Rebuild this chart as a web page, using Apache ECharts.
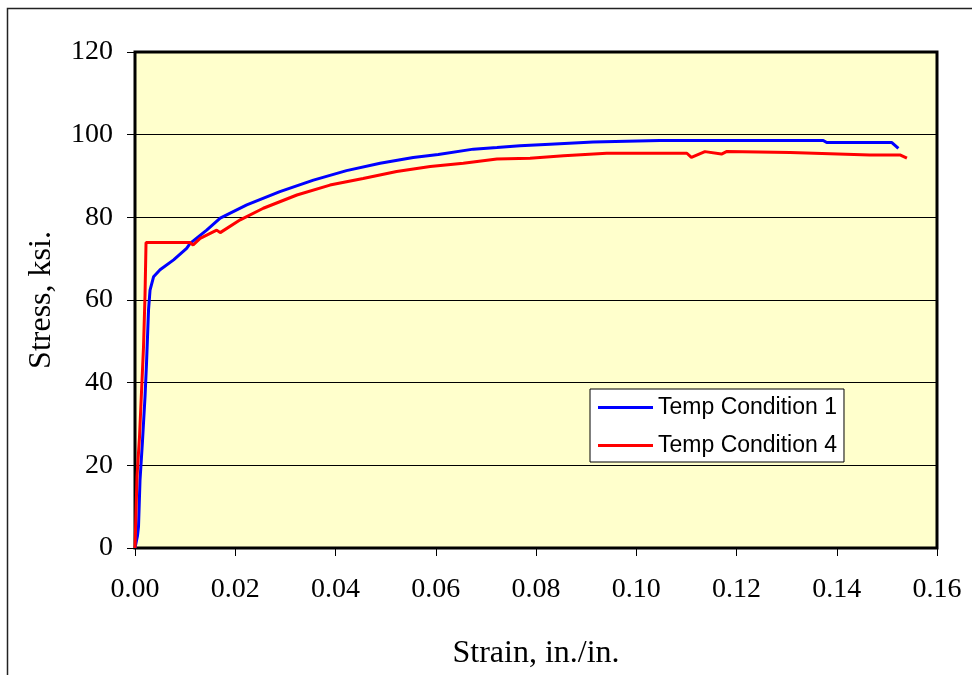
<!DOCTYPE html>
<html>
<head>
<meta charset="utf-8">
<style>
  html, body { margin: 0; padding: 0; background: #ffffff; }
  #chart { width: 972px; height: 675px; }
</style>
<script src="https://cdn.jsdelivr.net/npm/echarts@6/dist/echarts.min.js"></script>
</head>
<body>
<div id="chart"></div>
<script>
// Tensile test curves: strain (in./in.) vs stress (ksi)
const strainCond1 = [0, 0.0005, 0.0007, 0.001, 0.0015, 0.002, 0.0023, 0.0027, 0.003, 0.0037,
  0.005, 0.0077, 0.0103, 0.011, 0.0143, 0.017, 0.0223, 0.0289, 0.0356, 0.0422, 0.0489,
  0.0555, 0.0605, 0.0675, 0.0722, 0.0768, 0.0828, 0.0914, 0.1047, 0.1373, 0.138, 0.151, 0.1523];
const stressCond1 = [0, 3, 5.2, 16.4, 26, 36.6, 44.7, 57.6, 62.4, 65.6,
  67.3, 69.7, 72.5, 73.7, 76.9, 79.8, 83.0, 86.2, 89.0, 91.3, 93.1,
  94.5, 95.2, 96.5, 96.9, 97.3, 97.7, 98.2, 98.6, 98.6, 98.1, 98.1, 96.7];

const strainCond4 = [0, 0.0003, 0.0004, 0.0007, 0.0009, 0.0013, 0.0017, 0.002, 0.0022, 0.011,
  0.0116, 0.013, 0.0163, 0.017, 0.021, 0.0256, 0.0323, 0.0389, 0.0455, 0.0522, 0.0589,
  0.0655, 0.0722, 0.0788, 0.0855, 0.0941, 0.1101, 0.111, 0.1137, 0.117, 0.118, 0.1307,
  0.1466, 0.1526, 0.154];
const stressCond4 = [0, 0, 17.3, 17.3, 26.9, 37.8, 48.7, 61.2, 73.9, 73.9,
  73.3, 74.9, 76.9, 76.3, 79.4, 82.2, 85.4, 87.8, 89.4, 91.1, 92.3,
  93.1, 94.1, 94.3, 94.9, 95.5, 95.5, 94.5, 95.9, 95.3, 95.9, 95.7,
  95.1, 95.1, 94.3];

const seriesNames = ['Temp Condition 1', 'Temp Condition 4'];
const seriesColors = ['#0000ff', '#ff0000'];
const xTicks = { min: 0, max: 0.16, step: 0.02 };
const yTicks = { min: 0, max: 120, step: 20 };

const pairs = (xs, ys) => xs.map((x, i) => [x, ys[i]]);

const serif = '"Liberation Serif", "Times New Roman", serif';
const sans = '"Liberation Sans", Arial, sans-serif';

const chart = echarts.init(document.getElementById('chart'), null, { renderer: 'canvas' });

chart.setOption({
  animation: false,
  backgroundColor: '#ffffff',
  graphic: [{
    type: 'rect',
    shape: { x: 7.5, y: 8.5, width: 1000, height: 700 },
    style: { fill: 'none', stroke: '#222', lineWidth: 1.5 },
    silent: true
  }],
  grid: {
    left: 135, top: 52, right: 35, bottom: 127,
    show: true,
    backgroundColor: '#ffffcc',
    borderColor: '#000',
    borderWidth: 3
  },
  legend: {
    orient: 'vertical',
    left: 590, top: 389,
    padding: [7, 7, 5, 8],
    itemGap: 15,
    itemWidth: 55,
    itemHeight: 3,
    icon: 'rect',
    backgroundColor: '#ffffff',
    borderColor: '#000',
    borderWidth: 1,
    textStyle: { fontFamily: sans, fontSize: 23, color: '#000' },
    data: seriesNames
  },
  xAxis: {
    type: 'value',
    min: xTicks.min, max: xTicks.max, interval: xTicks.step,
    name: 'Strain, in./in.',
    nameLocation: 'middle',
    nameGap: 90,
    nameTextStyle: { fontFamily: serif, fontSize: 32, color: '#000' },
    axisLine: { show: false },
    axisTick: { show: true, length: 8, lineStyle: { color: '#000', width: 1 } },
    axisLabel: {
      margin: 28, fontFamily: serif, fontSize: 28, color: '#000',
      formatter: v => v.toFixed(2)
    },
    splitLine: { show: false }
  },
  yAxis: {
    type: 'value',
    min: yTicks.min, max: yTicks.max, interval: yTicks.step,
    name: 'Stress, ksi.',
    nameLocation: 'middle',
    nameGap: 77,
    nameTextStyle: { fontFamily: serif, fontSize: 32, color: '#000' },
    axisLine: { show: false },
    axisTick: { show: true, length: 8, lineStyle: { color: '#000', width: 1 } },
    axisLabel: { margin: 22, fontFamily: serif, fontSize: 28, color: '#000' },
    splitLine: { show: true, lineStyle: { color: '#000', width: 1 } }
  },
  series: [
    {
      name: seriesNames[0],
      type: 'line',
      data: pairs(strainCond1, stressCond1),
      symbol: 'none',
      color: seriesColors[0],
      lineStyle: { color: seriesColors[0], width: 3 },
      z: 3
    },
    {
      name: seriesNames[1],
      type: 'line',
      data: pairs(strainCond4, stressCond4),
      symbol: 'none',
      color: seriesColors[1],
      lineStyle: { color: seriesColors[1], width: 3 },
      z: 4
    }
  ]
});
</script>
</body>
</html>
